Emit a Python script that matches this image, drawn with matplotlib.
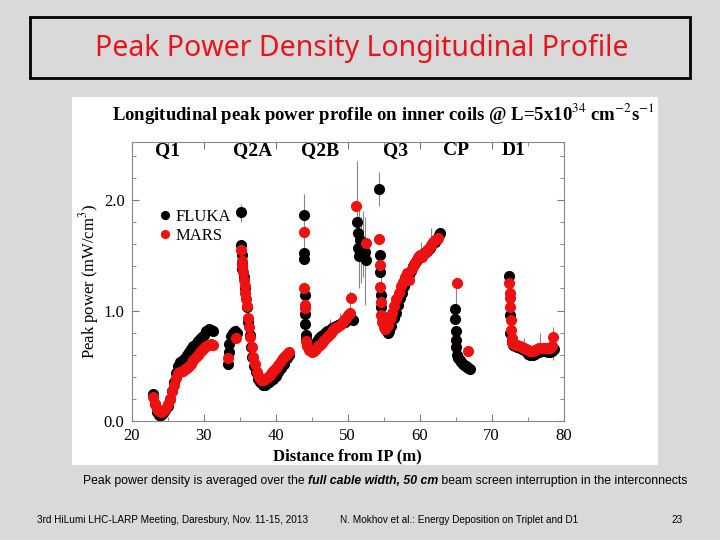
import numpy as np
import matplotlib
matplotlib.use("Agg")
import matplotlib.pyplot as plt
from matplotlib.patches import Rectangle
from matplotlib.ticker import MultipleLocator

# FLUKA (black) and MARS (red), peak power in mW/cm^3 vs distance from IP (m)
fluka_x = [23.0, 23.2, 23.5, 23.8, 24.1, 24.4, 24.7, 25.0, 25.3, 25.6, 25.9, 26.2, 26.5, 26.8,
           27.1, 27.4, 27.7, 28.0, 28.3, 28.6, 28.9, 29.2, 29.5, 29.8, 30.1, 30.4, 30.7, 31.0, 31.3,
           33.4, 33.5, 33.6, 33.8, 34.1, 34.4, 34.7, 35.2, 35.25, 35.3, 35.35, 35.4, 35.6, 35.8, 36.0,
           36.2, 36.4, 36.6, 36.8, 37.0, 37.3, 37.6, 37.9, 38.2, 38.5, 38.8, 39.1, 39.4, 39.7, 40.0,
           40.4, 40.8, 41.2, 41.6, 41.9,
           43.9, 43.95, 44.0, 44.05, 44.1, 44.15, 44.2, 44.3, 44.5, 44.8, 45.1, 45.4, 45.7, 46.0,
           46.3, 46.6, 46.9, 47.2, 47.5, 47.8, 48.1, 48.4, 48.7, 49.0, 49.3, 49.6, 49.9, 50.2, 50.5, 50.8,
           51.3, 51.4, 51.6, 51.8, 52.0, 52.2, 52.4, 52.5, 51.5, 52.3,
           54.4, 54.5, 54.55, 54.6, 54.7, 54.8, 55.0, 55.2, 55.4, 55.6, 55.8, 56.1, 56.4, 56.7, 57.0,
           57.3, 57.6, 57.9, 58.2, 58.5, 58.8, 59.1, 59.4, 59.7, 60.0, 60.3, 60.6, 60.9, 61.2, 61.5,
           61.8, 62.1, 62.4, 62.7, 62.9,
           64.9, 64.95, 65.0, 65.05, 65.1, 65.2, 65.4, 65.6, 65.8, 66.0, 66.2, 66.4, 66.6, 66.8, 67.0,
           72.4, 72.5, 72.6, 72.8, 73.0, 73.3, 73.6, 73.9, 74.2, 74.5, 74.8, 75.1, 75.4, 75.7, 76.0,
           76.3, 76.6, 76.9, 77.2, 77.5, 77.8, 78.1, 78.4, 78.7]
fluka_y = [0.24, 0.15, 0.08, 0.05, 0.05, 0.07, 0.10, 0.14, 0.20, 0.27, 0.35, 0.43, 0.50, 0.53,
           0.55, 0.57, 0.60, 0.62, 0.65, 0.68, 0.70, 0.72, 0.74, 0.76, 0.78, 0.81, 0.83, 0.82, 0.81,
           0.52, 0.62, 0.70, 0.77, 0.80, 0.81, 0.80, 1.89, 1.59, 1.50, 1.42, 1.38, 1.30, 1.20, 1.03,
           0.90, 0.78, 0.67, 0.58, 0.50, 0.44, 0.38, 0.35, 0.33, 0.33, 0.34, 0.35, 0.37, 0.38, 0.41,
           0.44, 0.48, 0.52, 0.57, 0.60,
           1.86, 1.52, 1.47, 1.14, 0.97, 0.88, 0.78, 0.74, 0.70, 0.67, 0.66, 0.68, 0.72, 0.75,
           0.77, 0.78, 0.80, 0.81, 0.82, 0.84, 0.85, 0.86, 0.87, 0.88, 0.89, 0.90, 0.91, 0.92, 0.92, 0.91,
           1.80, 1.70, 1.49, 1.64, 1.56, 1.59, 1.53, 1.46, 1.57, 1.50,
           2.10, 1.50, 1.35, 1.14, 1.03, 0.95, 0.91, 0.86, 0.82, 0.80, 0.81, 0.86, 0.93, 0.98, 1.05,
           1.11, 1.16, 1.22, 1.28, 1.32, 1.36, 1.40, 1.43, 1.46, 1.48, 1.50, 1.52, 1.53, 1.55, 1.57,
           1.60, 1.62, 1.65, 1.68, 1.70,
           1.01, 0.92, 0.81, 0.73, 0.67, 0.60, 0.57, 0.55, 0.53, 0.52, 0.51, 0.50, 0.49, 0.48, 0.47,
           1.31, 0.96, 0.80, 0.72, 0.69, 0.68, 0.67, 0.66, 0.65, 0.64, 0.63, 0.61, 0.60, 0.60, 0.61,
           0.62, 0.62, 0.63, 0.63, 0.63, 0.62, 0.62, 0.63, 0.65]

mars_x = [23.0, 23.2, 23.5, 23.8, 24.1, 24.4, 24.7, 25.0, 25.3, 25.6, 25.9, 26.2, 26.5, 26.8,
          27.1, 27.4, 27.7, 28.0, 28.3, 28.6, 28.9, 29.2, 29.5, 29.8, 30.1, 30.4, 30.7, 31.0, 31.3,
          33.4, 34.5, 35.25, 35.3, 35.4, 35.5, 35.6, 35.7, 35.8, 35.9, 36.0, 36.2, 36.3, 36.5, 36.7,
          36.9, 37.1, 37.4, 37.7, 38.0, 38.3, 38.6, 38.9, 39.2, 39.5, 39.8, 40.1, 40.4, 40.7, 41.0,
          41.3, 41.6, 41.9,
          43.9, 44.0, 44.05, 44.1, 44.2, 44.4, 44.7, 45.0, 45.3, 45.6, 45.9, 46.2, 46.5, 46.8, 47.1,
          47.4, 47.7, 48.0, 48.3, 48.6, 48.9, 49.2, 49.5, 49.8, 50.1, 50.4, 50.5,
          51.2, 52.5,
          54.4, 54.5, 54.55, 54.6, 54.7, 54.8, 55.0, 55.2, 55.4, 55.6, 55.9, 56.2, 56.5, 56.8, 57.1,
          57.4, 57.7, 58.0, 58.3, 58.6, 58.9, 59.2, 59.5, 59.8, 60.1, 60.4, 60.7, 61.0, 61.3, 61.6,
          61.9, 62.2, 62.5,
          65.2, 66.7,
          72.45, 72.5, 72.55, 72.6, 72.65, 72.7, 72.8, 72.9, 73.1, 73.3, 73.6, 73.9, 74.2, 74.5, 74.8,
          75.1, 75.4, 75.7, 76.0, 76.3, 76.6, 76.9, 77.2, 77.5, 77.8, 78.1, 78.4, 78.6]
mars_y = [0.22, 0.15, 0.11, 0.09, 0.08, 0.09, 0.11, 0.15, 0.20, 0.27, 0.33, 0.39, 0.43, 0.44,
          0.45, 0.47, 0.48, 0.50, 0.52, 0.55, 0.58, 0.60, 0.62, 0.64, 0.66, 0.68, 0.69, 0.70, 0.69,
          0.57, 0.75, 1.55, 1.45, 1.40, 1.35, 1.28, 1.22, 1.16, 1.10, 1.04, 0.93, 0.85, 0.76, 0.67,
          0.58, 0.52, 0.44, 0.40, 0.37, 0.37, 0.38, 0.40, 0.42, 0.44, 0.46, 0.48, 0.51, 0.54, 0.57,
          0.59, 0.61, 0.62,
          1.71, 1.20, 1.05, 1.02, 0.72, 0.68, 0.64, 0.62, 0.63, 0.65, 0.68, 0.69, 0.71, 0.73, 0.76,
          0.78, 0.80, 0.82, 0.84, 0.85, 0.87, 0.89, 0.91, 0.93, 0.96, 0.98, 1.11,
          1.95, 1.61,
          1.65, 1.41, 1.21, 1.08, 0.96, 0.90, 0.85, 0.83, 0.84, 0.87, 0.92, 0.98, 1.04, 1.10, 1.16,
          1.22, 1.26, 1.30, 1.34, 1.28, 1.38, 1.42, 1.45, 1.48, 1.50, 1.48, 1.52, 1.55, 1.57, 1.59,
          1.62, 1.64, 1.66,
          1.25, 0.63,
          1.25, 1.16, 1.11, 1.03, 0.91, 0.82, 0.75, 0.71, 0.70, 0.69, 0.69, 0.68, 0.67, 0.66, 0.65,
          0.64, 0.63, 0.63, 0.64, 0.65, 0.66, 0.66, 0.66, 0.66, 0.66, 0.66, 0.68, 0.76]

# statistical error bars (FLUKA), low/high ends
err_x = [35.2, 43.9, 44.1, 51.3, 51.6, 51.9, 52.1, 52.4, 54.4, 54.6, 65.0, 67.0, 74.5, 76.7, 78.5,
         34.6, 50.4, 61.6, 47.5, 49.0, 58.5, 60.2]
err_lo = [1.80, 1.55, 0.80, 1.55, 1.20, 1.25, 1.30, 1.05, 1.95, 1.20, 0.90, 0.45, 0.60, 0.58, 0.55,
          0.78, 1.00, 1.50, 0.76, 0.82, 1.25, 1.44]
err_hi = [1.96, 2.05, 1.15, 2.35, 1.95, 1.85, 1.90, 1.85, 2.25, 1.45, 1.30, 0.52, 0.75, 0.80, 0.85,
          0.87, 1.18, 1.75, 0.92, 0.98, 1.42, 1.62]

magnets = ["Q1", "Q2A", "Q2B", "Q3", "CP", "D1"]
magnet_x = [25.0, 36.8, 46.2, 56.6, 65.0, 73.0]

caption = ["Peak power density is averaged over the ", "full cable width, 50 cm",
           " beam screen interruption in the interconnects"]

plt.rcParams["mathtext.fontset"] = "stix"
serif = "Liberation Serif"
narrow = ["Liberation Sans Narrow", "Liberation Sans"]

fig = plt.figure(figsize=(7.2, 5.4), dpi=100)
fig.patch.set_facecolor("#d9d9d9")

# slide title box
fig.add_artist(Rectangle((30 / 720, 1 - 78 / 540), 660 / 720, 61 / 540,
                         transform=fig.transFigure, fill=False, edgecolor="black", lw=2))
fig.text(0.503, 1 - 48 / 540, "Peak Power Density Longitudinal Profile", color="#e8141c",
         fontsize=20.5, family="Noto Sans", ha="center", va="center")

# white image panel behind the axes
fig.add_artist(Rectangle((72 / 720, 1 - 465 / 540), 586 / 720, 368 / 540,
                         transform=fig.transFigure, facecolor="white", edgecolor="none",
                         zorder=-5))
fig.text(0.532, 1 - 113 / 540,
         r"Longitudinal peak power profile on inner coils @ L=5x10$^{34}$ cm$^{-2}$s$^{-1}$",
         fontsize=13.5, family=serif, weight="bold", ha="center", va="center")

ax = fig.add_axes([131.5 / 720, 1 - 421 / 540, 432 / 720, 279 / 540])
ax.set_facecolor("white")
ax.vlines(err_x, err_lo, err_hi, color="#888888", lw=0.8, zorder=1)
ax.plot(fluka_x, fluka_y, "o", color="black", ms=7, label="FLUKA", zorder=2)
ax.plot(mars_x, mars_y, "o", color="#ee1111", ms=7, label="MARS", zorder=3)

ax.set_xlim(20, 80)
ax.set_ylim(0, 2.525)
ax.xaxis.set_major_locator(MultipleLocator(10))
ax.xaxis.set_minor_locator(MultipleLocator(5))
ax.yaxis.set_major_locator(MultipleLocator(1.0))
ax.yaxis.set_minor_locator(MultipleLocator(0.2))
ax.yaxis.set_major_formatter(plt.FormatStrFormatter("%.1f"))
ax.tick_params(which="both", direction="in", top=True, right=True, color="#777777",
               labelsize=12, pad=5)
ax.tick_params(which="major", length=5)
ax.tick_params(which="minor", length=3)
for lbl in ax.get_xticklabels() + ax.get_yticklabels():
    lbl.set_family(serif)
for s in ax.spines.values():
    s.set_color("#888888")
    s.set_linewidth(0.8)

ax.set_xlabel("Distance from IP (m)", family=serif, weight="bold", fontsize=12, labelpad=3)
ax.set_ylabel(r"Peak power (mW/cm$^3$)", family=serif, fontsize=12, labelpad=2)

for name, xm in zip(magnets, magnet_x):
    ax.text(xm, 2.45, name, family=serif, weight="bold", fontsize=14, ha="center", va="center")

ax.legend(loc="upper left", bbox_to_anchor=(0.04, 0.79), frameon=False,
          prop={"family": serif, "size": 12}, handletextpad=0.1, borderpad=0,
          labelspacing=0.2, handlelength=1.0, markerscale=0.8)

# caption in three pieces, middle one bold italic
renderer = fig.canvas.get_renderer()
xpos = 83
for i, piece in enumerate(caption):
    t = fig.text(xpos / 720, 1 - 481 / 540, piece, family=narrow, fontsize=8.85, va="center",
                 weight="bold" if i == 1 else "normal",
                 style="italic" if i == 1 else "normal")
    xpos += t.get_window_extent(renderer).width

fig.text(37 / 720, 1 - 520 / 540, "3rd HiLumi LHC-LARP Meeting, Daresbury, Nov. 11-15, 2013",
         family=narrow, fontsize=7.2, va="center")
fig.text(340 / 720, 1 - 520 / 540, "N. Mokhov et al.: Energy Deposition on Triplet and D1",
         family=narrow, fontsize=7.2, va="center")
fig.text(683 / 720, 1 - 520 / 540, "23", family=narrow, fontsize=7.2, va="center", ha="right")

fig.savefig("out.png", dpi=100, facecolor=fig.get_facecolor())
